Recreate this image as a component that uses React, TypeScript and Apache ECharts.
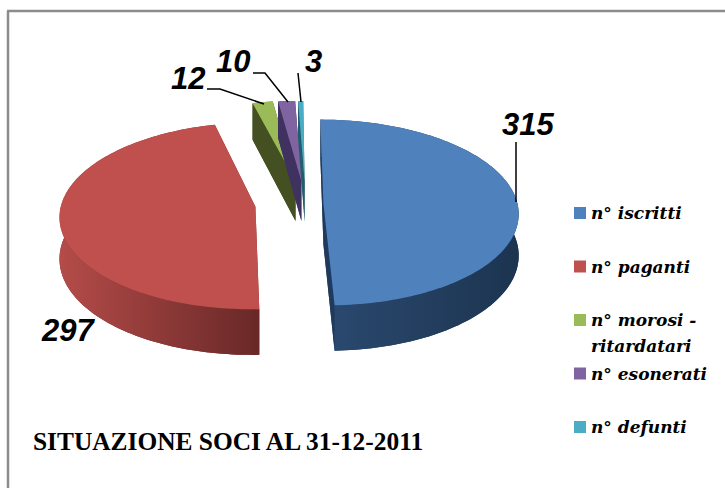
import React, { useEffect, useRef } from "react";
import * as echarts from "echarts";

const categories = ["n° iscritti", "n° paganti", "n° morosi - ritardatari", "n° esonerati", "n° defunti"];
const values = [315, 297, 12, 10, 3];
const topColors = ["#4f81bd", "#c0504d", "#9bbb59", "#8064a2", "#4bacc6"];
const sideColors = ["#1f3a5c", "#7a2f2d", "#445022", "#3f3160", "#235c6c"];
const wallStops = [
  ["#2b4a70", "#1c3450"],
  ["#b44c49", "#682827"],
  ["#445022", "#445022"],
  ["#3f3160", "#3f3160"],
  ["#235c6c", "#235c6c"],
];
// explosion of each slice, in pie radii (across, depth)
const explode = [
  [0.18, 0],
  [-0.17, 0.035],
  [0.037, -0.25],
  [0.068, -0.25],
  [0.085, -0.25],
];
const title = "SITUAZIONE SOCI AL 31-12-2011";
const labelLayout = [
  { x: 502, y: 136 },
  { x: 42, y: 342 },
  { x: 171, y: 90 },
  { x: 216, y: 73 },
  { x: 305, y: 73 },
];
const leaders = [
  [[516, 142], [516, 202]],
  [],
  [[207, 89], [220, 89], [264, 104]],
  [[253, 73], [265, 73], [288, 102]],
  [[298, 73], [301, 102]],
];

const CX = 288.5, CY = 203.5, A = 194, B = 92, D = 41, K = 0.0968;
const total = values.reduce((s, v) => s + v, 0);

function project(u: number, v: number, z: number): number[] {
  const w = 1 - K * v;
  return [CX + (A * u) / w, CY + (B * v + D * z) / w];
}

function renderSlice(index: number) {
  return (_params: any, api: any) => {
    const value = api.value(0) as number;
    const before = values.slice(0, index).reduce((s, v) => s + v, 0);
    const a0 = (before / total) * Math.PI * 2;
    const a1 = a0 + (value / total) * Math.PI * 2;
    const [u0, v0] = explode[index];
    const steps = Math.max(4, Math.ceil((a1 - a0) * 40));
    const rim = (z: number) => {
      const pts: number[][] = [];
      for (let i = 0; i <= steps; i++) {
        const t = a0 + ((a1 - a0) * i) / steps;
        pts.push(project(u0 + Math.sin(t), v0 - Math.cos(t), z));
      }
      return pts;
    };
    const top = rim(0);
    const bottom = rim(1);
    const apexTop = project(u0, v0, 0);
    const apexBottom = project(u0, v0, 1);
    const side = sideColors[index];
    const poly = (points: number[][], fill: any) => ({
      type: "polygon",
      shape: { points },
      style: { fill, stroke: null },
      silent: true,
    });
    const [c0, c1] = wallStops[index];
    const wallFill = new echarts.graphic.LinearGradient(0, 0, 1, 0, [
      { offset: 0, color: c0 },
      { offset: 1, color: c1 },
    ]);
    return {
      type: "group",
      children: [
        poly([apexBottom, ...bottom], side),
        poly([apexTop, top[0], bottom[0], apexBottom], side),
        poly([apexTop, top[steps], bottom[steps], apexBottom], side),
        poly([...top, ...bottom.slice().reverse()], wallFill),
        poly([apexTop, ...top], topColors[index]),
      ],
    };
  };
}

export default function App() {
  const ref = useRef<HTMLDivElement>(null);
  useEffect(() => {
    const chart = echarts.init(ref.current!, undefined, { renderer: "svg" });
    const labelFont = "italic bold 31px 'Liberation Sans'";
    const graphics: any[] = [
      { type: "line", shape: { x1: 8, y1: 11, x2: 8, y2: 488 }, style: { stroke: "#8c8c8c", lineWidth: 2.5 }, silent: true },
      { type: "line", shape: { x1: 7, y1: 11, x2: 725, y2: 11 }, style: { stroke: "#8c8c8c", lineWidth: 2.5 }, silent: true },
      {
        type: "text", x: 33, y: 453,
        style: { text: title, font: "bold 25.4px 'Liberation Serif'", fill: "#000", textVerticalAlign: "bottom" },
        silent: true,
      },
      {
        type: "text", x: 591, y: 346,
        style: { text: "ritardatari", font: "italic bold 17px 'DejaVu Serif'", fill: "#000", textVerticalAlign: "middle" },
        silent: true,
      },
    ];
    values.forEach((v, i) => {
      graphics.push({
        type: "text", x: labelLayout[i].x, y: labelLayout[i].y + 4, z: 10,
        style: { text: String(v), font: labelFont, fill: "#000", textVerticalAlign: "bottom" },
        silent: true,
      });
      if (leaders[i].length) {
        graphics.push({
          type: "polyline", z: 10, shape: { points: leaders[i] },
          style: { stroke: "#000", lineWidth: 1.5, fill: null }, silent: true,
        });
      }
    });
    chart.setOption({
      animation: false,
      backgroundColor: "#fff",
      legend: {
        orient: "vertical",
        left: 569,
        top: 199.5,
        itemWidth: 12,
        itemHeight: 12,
        itemGap: 36.5,
        icon: "rect",
        selectedMode: false,
        formatter: (name: string) => (name.includes(" - ") ? name.split(" ").slice(0, 3).join(" ") : name),
        textStyle: { fontFamily: "DejaVu Serif", fontStyle: "italic", fontWeight: "bold", fontSize: 17, color: "#000" },
      },
      graphic: graphics,
      series: categories.map((name, i) => ({
        type: "custom",
        name,
        coordinateSystem: "none",
        data: [values[i]],
        itemStyle: { color: topColors[i] },
        renderItem: renderSlice(i),
        silent: true,
      })),
    });
    return () => chart.dispose();
  }, []);
  return <div ref={ref} style={{ position: "fixed", left: 0, top: 0, width: 725, height: 488 }} />;
}
